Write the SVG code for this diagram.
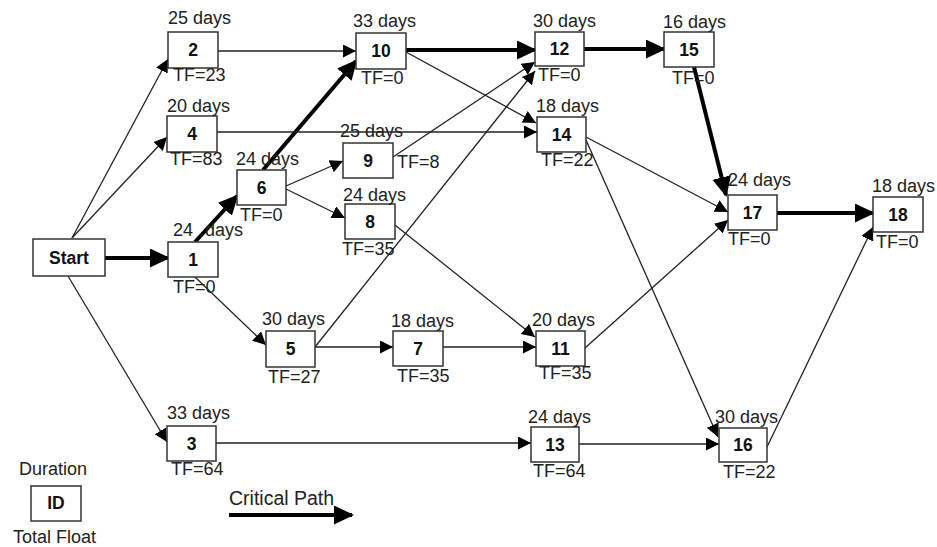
<svg xmlns="http://www.w3.org/2000/svg" width="937" height="547" viewBox="0 0 937 547">
<defs>
<style>
.box{fill:#fff;stroke:#333;stroke-width:1.5}
.id{font-family:"Liberation Sans",Arial,sans-serif;font-size:17.5px;font-weight:bold;fill:#111;text-anchor:middle}
.lbl{font-family:"Liberation Sans",Arial,sans-serif;font-size:18px;fill:#222}
.thin{stroke:#222;stroke-width:1.3;fill:none;marker-end:url(#ah)}
.thick{stroke:#000;stroke-width:4;fill:none;marker-end:url(#ahb)}
</style>
<marker id="ah" markerUnits="userSpaceOnUse" markerWidth="15" markerHeight="14" refX="13" refY="6.5" orient="auto">
<path d="M0,0 L13,6.5 L0,13 Z" fill="#000"/>
</marker>
<marker id="ahb" markerUnits="userSpaceOnUse" markerWidth="21" markerHeight="20" refX="18" refY="9.5" orient="auto">
<path d="M0,0 L20,9.5 L0,19 Z" fill="#000"/>
</marker>
</defs>
<rect width="937" height="547" fill="#fff"/>
<g id="connectors">
<line class="thin" x1="72" y1="238" x2="168" y2="59"/>
<line class="thin" x1="72" y1="238" x2="167" y2="137"/>
<line class="thick" x1="105" y1="258" x2="168" y2="258"/>
<line class="thin" x1="68" y1="276" x2="167" y2="442"/>
<line class="thick" x1="195" y1="242" x2="237" y2="196"/>
<line class="thin" x1="195" y1="277" x2="266" y2="345"/>
<line class="thick" x1="263" y1="170" x2="356" y2="61"/>
<line class="thin" x1="286" y1="186" x2="343" y2="161"/>
<line class="thin" x1="286" y1="189" x2="345" y2="218"/>
<line class="thin" x1="218" y1="51" x2="356" y2="51"/>
<line class="thin" x1="217" y1="132" x2="537" y2="132"/>
<line class="thick" x1="406" y1="50" x2="535" y2="50"/>
<line class="thin" x1="406" y1="52" x2="536" y2="123"/>
<line class="thin" x1="393" y1="157" x2="535" y2="62"/>
<line class="thin" x1="315" y1="347" x2="535" y2="71"/>
<line class="thick" x1="584" y1="49" x2="664" y2="49"/>
<line class="thick" x1="694" y1="67" x2="726" y2="195"/>
<line class="thin" x1="586" y1="137" x2="728" y2="212"/>
<line class="thin" x1="586" y1="140" x2="718" y2="437"/>
<line class="thin" x1="585" y1="348" x2="728" y2="220"/>
<line class="thin" x1="395" y1="225" x2="535" y2="337"/>
<line class="thin" x1="315" y1="347" x2="393" y2="347"/>
<line class="thin" x1="443" y1="347" x2="536" y2="347"/>
<line class="thin" x1="216" y1="443" x2="531" y2="443"/>
<line class="thin" x1="579" y1="444" x2="719" y2="444"/>
<line class="thin" x1="767" y1="447" x2="873" y2="227"/>
<line class="thick" x1="777" y1="213" x2="873" y2="213"/>
</g>
<g id="node-start"><rect class="box" x="33" y="239" width="72" height="37"/><text class="id" x="69" y="264">Start</text></g>
<g id="node-1"><rect class="box" x="168" y="242" width="50" height="35"/><text class="id" x="193" y="266">1</text><text class="lbl" x="173" y="236">24 <tspan dx="7">days</tspan></text><text class="lbl" x="173" y="293">TF=0</text></g>
<g id="node-2"><rect class="box" x="168" y="32" width="50" height="36"/><text class="id" x="193" y="56">2</text><text class="lbl" x="168" y="24">25 days</text><text class="lbl" x="173" y="81">TF=23</text></g>
<g id="node-3"><rect class="box" x="167" y="426" width="49" height="35"/><text class="id" x="191.5" y="450">3</text><text class="lbl" x="167" y="419">33 days</text><text class="lbl" x="171" y="475">TF=64</text></g>
<g id="node-4"><rect class="box" x="167" y="116" width="50" height="36"/><text class="id" x="192" y="140">4</text><text class="lbl" x="167" y="112">20 days</text><text class="lbl" x="170" y="165">TF=83</text></g>
<g id="node-5"><rect class="box" x="266" y="331" width="49" height="36"/><text class="id" x="290.5" y="355">5</text><text class="lbl" x="262" y="325">30 days</text><text class="lbl" x="268" y="383">TF=27</text></g>
<g id="node-6"><rect class="box" x="237" y="170" width="49" height="35"/><text class="id" x="261.5" y="194">6</text><text class="lbl" x="236" y="165">24 days</text><text class="lbl" x="240" y="221">TF=0</text></g>
<g id="node-7"><rect class="box" x="393" y="331" width="50" height="35"/><text class="id" x="418" y="355">7</text><text class="lbl" x="391" y="327">18 days</text><text class="lbl" x="397" y="382">TF=35</text></g>
<g id="node-8"><rect class="box" x="345" y="204" width="50" height="35"/><text class="id" x="370" y="228">8</text><text class="lbl" x="343" y="201">24 days</text><text class="lbl" x="342" y="255">TF=35</text></g>
<g id="node-9"><rect class="box" x="343" y="143" width="50" height="35"/><text class="id" x="368" y="167">9</text><text class="lbl" x="340" y="137">25 days</text><text class="lbl" x="397" y="168">TF=8</text></g>
<g id="node-10"><rect class="box" x="356" y="33" width="50" height="36"/><text class="id" x="381" y="57">10</text><text class="lbl" x="353" y="27">33 days</text><text class="lbl" x="361" y="84">TF=0</text></g>
<g id="node-11"><rect class="box" x="536" y="331" width="49" height="35"/><text class="id" x="560.5" y="355">11</text><text class="lbl" x="532" y="326">20 days</text><text class="lbl" x="539" y="379">TF=35</text></g>
<g id="node-12"><rect class="box" x="535" y="32" width="49" height="34"/><text class="id" x="559.5" y="55">12</text><text class="lbl" x="533" y="27">30 days</text><text class="lbl" x="538" y="81">TF=0</text></g>
<g id="node-13"><rect class="box" x="531" y="427" width="48" height="35"/><text class="id" x="555" y="451">13</text><text class="lbl" x="528" y="423">24 days</text><text class="lbl" x="533" y="477">TF=64</text></g>
<g id="node-14"><rect class="box" x="537" y="117" width="49" height="35"/><text class="id" x="561.5" y="141">14</text><text class="lbl" x="536" y="112">18 days</text><text class="lbl" x="541" y="166">TF=22</text></g>
<g id="node-15"><rect class="box" x="664" y="32" width="50" height="35"/><text class="id" x="689" y="56">15</text><text class="lbl" x="663" y="28">16 days</text><text class="lbl" x="672" y="84">TF=0</text></g>
<g id="node-16"><rect class="box" x="719" y="428" width="48" height="34"/><text class="id" x="743" y="451">16</text><text class="lbl" x="715" y="423">30 days</text><text class="lbl" x="723" y="478">TF=22</text></g>
<g id="node-17"><rect class="box" x="728" y="195" width="49" height="35"/><text class="id" x="752.5" y="219">17</text><text class="lbl" x="728" y="186">24 days</text><text class="lbl" x="728" y="245">TF=0</text></g>
<g id="node-18"><rect class="box" x="873" y="197" width="50" height="35"/><text class="id" x="898" y="221">18</text><text class="lbl" x="872" y="192">18 days</text><text class="lbl" x="876" y="248">TF=0</text></g>
<g id="legend">
<text class="lbl" x="19" y="475">Duration</text>
<rect class="box" x="31" y="486" width="50" height="35"/>
<text class="id" x="56" y="509">ID</text>
<text class="lbl" x="13" y="543">Total Float</text>
<text class="lbl" x="229" y="505" style="font-size:19.5px">Critical Path</text>
<line class="thick" x1="229" y1="515" x2="352" y2="515"/>
</g>
</svg>
